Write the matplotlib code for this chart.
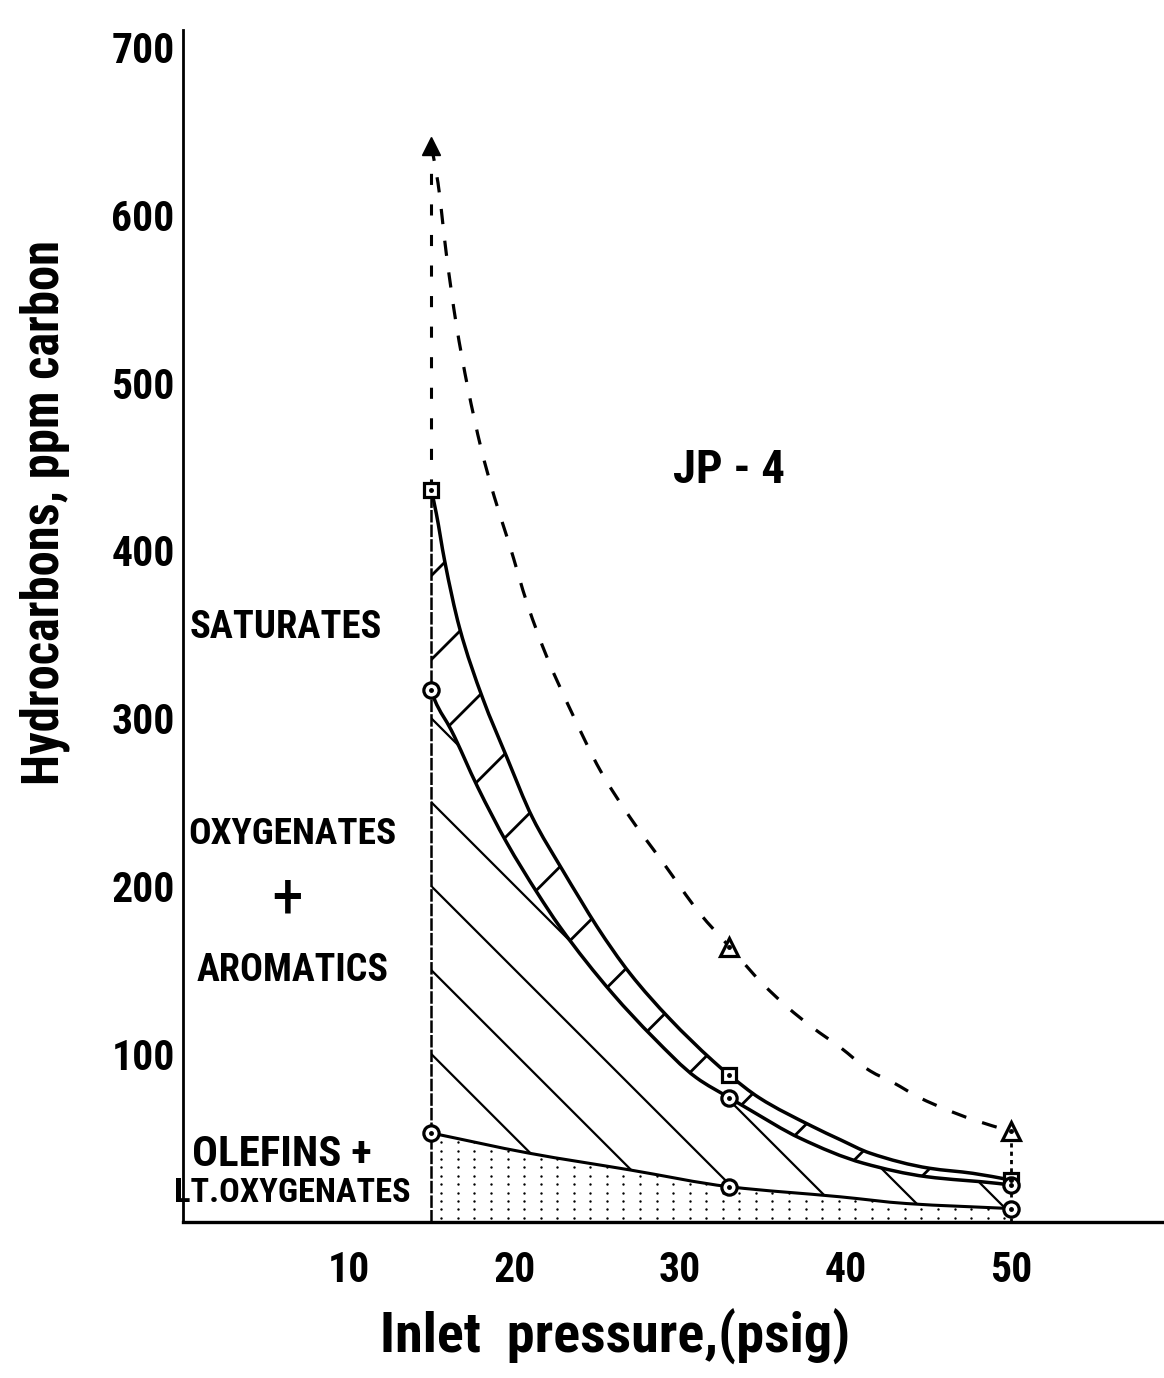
import numpy as np
import matplotlib
matplotlib.use('Agg')
import matplotlib.pyplot as plt
from matplotlib.path import Path
from matplotlib.patches import PathPatch

plt.rcParams['font.family'] = ['Roboto Condensed', 'DejaVu Sans']
plt.rcParams['font.stretch'] = 'condensed'
plt.rcParams['font.weight'] = 'bold'
plt.rcParams['lines.scale_dashes'] = False

# measured points, inlet pressure (psig) vs ppm carbon
pressure = [15, 33, 50]
total = [641, 164, 54]
saturates_top = [436, 87.5, 25]
oxy_arom_top = [317, 74, 22]
olefins_top = [53, 21, 8]

# traces of the drawn curves through those points
total_x = [15.0, 15.4, 15.9, 16.5, 17.2, 18.0, 18.8, 19.7, 20.8, 22.0, 23.5, 25.2,
           27.0, 29.0, 31.2, 33.0, 35.0, 36.5, 38.0, 39.7, 41.5, 42.9, 44.5, 46.1, 47.7, 50.0]
total_y = [641, 619, 577, 535, 497, 461, 432, 404, 368, 336, 303, 269,
           241, 214, 184, 164, 142, 128, 116, 104, 90, 83, 74, 67, 61, 54]

sat_x = [15.0, 15.3, 15.8, 16.7, 18.1, 19.55, 21.1, 22.9, 24.0, 25.0, 27.0, 29.4,
         32.0, 33.0, 34.8, 38.0, 39.7, 41.5, 45.1, 47.7, 50.0]
sat_y = [436, 422, 394, 354, 312, 277, 241, 210, 192, 176, 148, 121,
         96, 87.5, 74, 57, 49, 41, 32, 29, 25]

oxy_x = [15.0, 15.2, 16.2, 17.8, 19.55, 21.4, 22.75, 25.95, 28.4, 31.0, 33.0, 34.2,
         37.25, 41.1, 44.9, 49.2, 50.0]
oxy_y = [317, 311, 293, 259, 226, 196, 176, 136, 110, 86, 74, 67,
         50, 35, 27, 23, 22]

ole_x = [15.0, 20.9, 27.0, 33.0, 39.7, 43.7, 50.0]
ole_y = [53, 41, 31, 21, 15, 11, 8]

xticks = [10, 20, 30, 40, 50]
yticks = [100, 200, 300, 400, 500, 600, 700]


def smooth(x, y):
    """Cubic Hermite bezier segments through the traced points (monotone slopes)."""
    x = np.asarray(x, float)
    y = np.asarray(y, float)
    h = np.diff(x)
    d = np.diff(y) / h
    m = np.empty_like(x)
    m[0], m[-1] = d[0], d[-1]
    for i in range(1, len(x) - 1):
        if d[i - 1] * d[i] <= 0:
            m[i] = 0.0
        else:
            w1 = 2 * h[i] + h[i - 1]
            w2 = h[i] + 2 * h[i - 1]
            m[i] = (w1 + w2) / (w1 / d[i - 1] + w2 / d[i])
    verts = [(x[0], y[0])]
    for i in range(len(h)):
        verts += [(x[i] + h[i] / 3, y[i] + m[i] * h[i] / 3),
                  (x[i + 1] - h[i] / 3, y[i + 1] - m[i + 1] * h[i] / 3),
                  (x[i + 1], y[i + 1])]
    return verts


def open_path(verts):
    return Path(verts, [Path.MOVETO] + [Path.CURVE4] * (len(verts) - 1))


def closed_path(upper, lower_rev):
    verts = upper + lower_rev + [upper[0]]
    codes = ([Path.MOVETO] + [Path.CURVE4] * (len(upper) - 1) + [Path.LINETO]
             + [Path.CURVE4] * (len(lower_rev) - 1) + [Path.CLOSEPOLY])
    return Path(verts, codes)


fig = plt.figure(figsize=(11.64, 13.78), dpi=100)
ax = fig.add_axes([183 / 1164, 156 / 1378, 981 / 1164, 1192 / 1378])
ax.set_xlim(0, 59.25)
ax.set_ylim(0, 710)

ax.spines['top'].set_visible(False)
ax.spines['right'].set_visible(False)
ax.spines['left'].set_linewidth(2.0)
ax.spines['bottom'].set_linewidth(2.4)

ax.set_xticks(xticks)
ax.set_yticks(yticks)
ax.tick_params(axis='both', length=0, labelsize=30)
ax.tick_params(axis='x', pad=20)
ax.tick_params(axis='y', pad=6)

# slope that looks like 45 degrees on screen
bbox = ax.get_window_extent()
k = (bbox.width / 59.25) / (bbox.height / 710)

total_v = smooth(total_x, total_y)
sat_v = smooth(sat_x, sat_y)
oxy_v = smooth(oxy_x, oxy_y)
ole_v = smooth(ole_x, ole_y)

# clip regions
band = PathPatch(closed_path(sat_v, oxy_v[::-1]), facecolor='none', edgecolor='none')
mid = PathPatch(closed_path(oxy_v, ole_v[::-1]), facecolor='none', edgecolor='none')
low_verts = ole_v + [(50, 0), (15, 0), ole_v[0]]
low_codes = ([Path.MOVETO] + [Path.CURVE4] * (len(ole_v) - 1)
             + [Path.LINETO, Path.LINETO, Path.CLOSEPOLY])
low = PathPatch(Path(low_verts, low_codes), facecolor='none', edgecolor='none')
for p in (band, mid, low):
    ax.add_patch(p)

xx = np.array([15, 50])
# saturates: short rungs
for n in range(14):
    c = 385 - 50 * n
    ln, = ax.plot(xx, c + k * (xx - 15), color='k', lw=2.0)
    ln.set_clip_path(band)
# oxygenates + aromatics: wide diagonal hatch
for c in [100, 150, 200, 250, 300, 350]:
    ln, = ax.plot(xx, c - k * (xx - 15), color='k', lw=1.6)
    ln.set_clip_path(mid)
# olefins: stipple
gx, gy = np.meshgrid(np.arange(15.6, 50, 1.0), np.arange(2.5, 55, 5.0))
dots = ax.scatter(gx.ravel(), gy.ravel(), s=3, color='k', linewidths=0)
dots.set_clip_path(low)

# verticals at 15 and 50 psig
ax.plot([15, 15], [0, saturates_top[0]], color='k', lw=1.8, ls=(0, (9, 1.5)))
ax.plot([15, 15], [saturates_top[0], total[0]], color='k', lw=2.2, ls=(0, (8, 14)))
ax.plot([50, 50], [0, total[2]], color='k', lw=2.0, ls=(0, (3, 3)))

# curves
ax.add_patch(PathPatch(open_path(total_v), fill=False, edgecolor='k', lw=2.3,
                       ls=(0, (11, 12))))
ax.add_patch(PathPatch(open_path(sat_v), fill=False, edgecolor='k', lw=2.5))
ax.add_patch(PathPatch(open_path(oxy_v), fill=False, edgecolor='k', lw=2.5))
ax.add_patch(PathPatch(open_path(ole_v), fill=False, edgecolor='k', lw=2.2))

# markers
mk = dict(ls='none', mfc='white', mec='k', mew=2.3, zorder=5)
ax.plot(pressure[0], total[0], ls='none', marker='^', ms=13, color='k', zorder=5)
ax.plot(pressure[1:], total[1:], marker='^', ms=13, **mk)
ax.plot(pressure, saturates_top, marker='s', ms=10, **mk)
ax.plot(pressure, oxy_arom_top, marker='o', ms=11, **mk)
ax.plot(pressure, olefins_top, marker='o', ms=11, **mk)
for ys in (total[1:], saturates_top, oxy_arom_top, olefins_top):
    xs = pressure[-len(ys):]
    ax.plot(xs, ys, ls='none', marker='o', ms=2.5, color='k', zorder=6)

# region names
labels = [
    (ax.text(6.19, 354, 'SATURATES', fontsize=31, ha='center', va='center'), 192),
    (ax.text(6.62, 231, 'OXYGENATES', fontsize=31, ha='center', va='center'), 208),
    (ax.text(6.62, 150, 'AROMATICS', fontsize=31, ha='center', va='center'), 192),
    (ax.text(5.95, 40, 'OLEFINS +', fontsize=31, ha='center', va='center'), 185),
    (ax.text(6.6, 17, 'LT.OXYGENATES', fontsize=31, ha='center', va='center'), 236),
    (ax.text(32.96, 448, 'JP - 4', fontsize=44, ha='center', va='center'), 112),
]
ax.text(6.31, 192, '+', fontsize=46, fontweight='normal', ha='center', va='center')

ylab = fig.text(45 / 1164, 1 - 512 / 1378, 'Hydrocarbons, ppm carbon', rotation=90,
                fontsize=40, ha='center', va='center')
xlab = fig.text(615 / 1164, 1 - 1337 / 1378, 'Inlet  pressure,(psig)',
                fontsize=44, ha='center', va='center')

# shrink the lettering to the width it takes on the sheet
renderer = fig.canvas.get_renderer()
for t, w in labels + [(xlab, 470)]:
    ext = t.get_window_extent(renderer)
    if ext.width > w:
        t.set_fontsize(t.get_fontsize() * w / ext.width)
ext = ylab.get_window_extent(renderer)
if ext.height > 545:
    ylab.set_fontsize(ylab.get_fontsize() * 545 / ext.height)

fig.savefig('out.png', dpi=100)
